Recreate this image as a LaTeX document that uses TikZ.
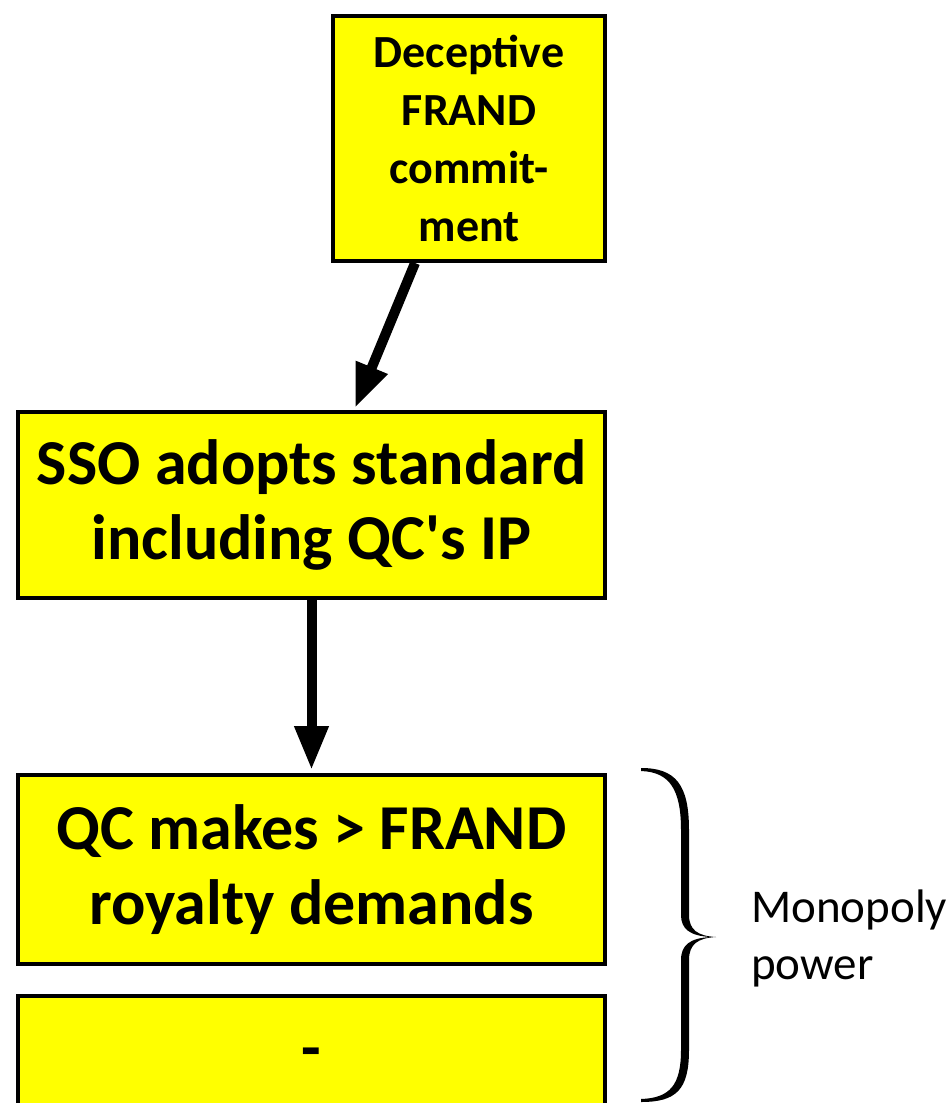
\documentclass[tikz,border=0pt]{standalone}
\usepackage{fontspec}
\setmainfont{Carlito}
\usetikzlibrary{arrows.meta,calc}
\definecolor{boxyellow}{HTML}{FFFF00}
\tikzset{
  box/.style={draw=black, line width=4pt, fill=boxyellow, inner sep=0pt,
              align=center, font=\bfseries},
  flow/.style={line width=10pt, -{Triangle[length=44pt,width=32pt]}},
  bigtxt/.style={font=\bfseries\fontsize{64}{75}\selectfont},
}
\begin{document}
\begin{tikzpicture}[x=1pt,y=-1pt]
\useasboundingbox (0,0) rectangle (950,1103);

% process boxes
\node[box, minimum width=272pt, minimum height=245pt,
      font=\bfseries\fontsize{46}{58}\selectfont] (b1) at (469,138.5)
  {Deceptive\\FRAND\\commit-\\ment};
\node[box, minimum width=587pt, minimum height=186pt, bigtxt] (b2) at (311.5,505)
  {SSO adopts standard\\including QC\textquotesingle s IP};
\node[box, minimum width=587pt, minimum height=189pt, bigtxt] (b3) at (311.5,869.5)
  {QC makes > FRAND\\royalty demands};
\node[box, minimum width=587pt, minimum height=150pt] (b4) at (311.5,1071) {};
\node[bigtxt, inner sep=0pt] (b4t) at ($(b4.center)+(0,-12)$) {-};

% connectors
\coordinate (a1s) at ($(b1.south west)+(84,0)$);
\coordinate (a1e) at ($(b2.north west)+(339,-2)$);
\draw[flow] (a1s) -- (a1e);
\draw[flow] (b2.south) -- ($(b3.north)+(0,-3)$);

% curly brace grouping the last two boxes
\fill[black]
  (641,768) .. controls (676,768) and (689,785) .. (689,830)
  -- (689,915) .. controls (689,930) and (698,936) .. (716,937)
  .. controls (698,938) and (689,944) .. (689,960)
  -- (689,1050) .. controls (689,1090) and (676,1102) .. (641,1102)
  -- (641,1099) .. controls (670,1098) and (681,1085) .. (681,1050)
  -- (681,960) .. controls (681,945) and (690,938) .. (711,937)
  .. controls (690,936) and (681,929) .. (681,915)
  -- (681,830) .. controls (681,790) and (670,772) .. (641,771) -- cycle;

\node[anchor=north west, inner sep=0pt, align=left,
      font=\fontsize{47}{57}\selectfont] (mp) at (751,890) {Monopoly\\power};
\end{tikzpicture}
\end{document}
